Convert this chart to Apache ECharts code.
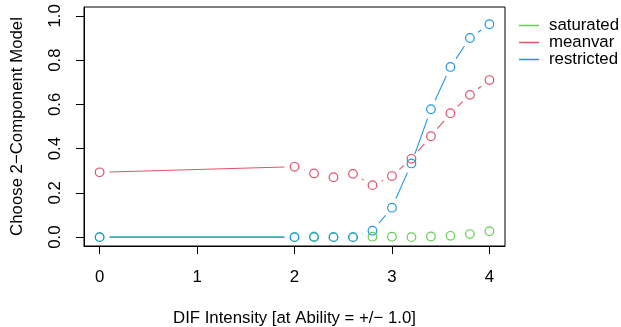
<!DOCTYPE html>
<html>
<head>
<meta charset="utf-8">
<script src="https://cdn.jsdelivr.net/npm/echarts@6/dist/echarts.min.js"></script>
<style>
  html, body { margin: 0; padding: 0; background: #ffffff; }
  #chart { width: 621px; height: 327px; }
</style>
</head>
<body>
<div id="chart"></div>
<script>
// DIF intensity values (x)
const intensity = [0, 2, 2.2, 2.4, 2.6, 2.8, 3, 3.2, 3.4, 3.6, 3.8, 4];

// proportion choosing the 2-component model
const saturated = [0, 0, 0.003, 0, 0, 0.002, 0.002, 0, 0.003, 0.006, 0.014, 0.027];
const meanvar = [0.293, 0.318, 0.288, 0.271, 0.286, 0.235, 0.276, 0.354, 0.456, 0.560, 0.643, 0.710];
const restricted = [0, 0, 0, 0, 0, 0.029, 0.133, 0.333, 0.578, 0.769, 0.900, 0.962];

const xTicks = [0, 1, 2, 3, 4];
const yTicks = [0, 0.2, 0.4, 0.6, 0.8, 1.0];

const models = [
  { name: 'saturated', values: saturated, color: '#61D04F' },
  { name: 'meanvar', values: meanvar, color: '#DF536B' },
  { name: 'restricted', values: restricted, color: '#2297E6' }
];

const FONT = '"Liberation Sans", Arial, Helvetica, sans-serif';
const FS = 16.8;
const GAP = 10; // like R type="b": segments stop short of the points

const chart = echarts.init(document.getElementById('chart'), null, { renderer: 'canvas' });

// points with gapped connecting segments
function makeSeries(m) {
  return {
    name: m.name,
    type: 'custom',
    itemStyle: { color: m.color },
    data: intensity.map((x, i) => [x, m.values[i]]),
    encode: { x: 0, y: 1 },
    renderItem: (params, api) => {
      const i = params.dataIndex;
      const p = api.coord([api.value(0), api.value(1)]);
      const children = [{
        type: 'circle',
        shape: { cx: p[0], cy: p[1], r: 4.3 },
        style: { fill: 'none', stroke: m.color, lineWidth: 1.2 }
      }];
      if (i > 0) {
        const q = api.coord([intensity[i - 1], m.values[i - 1]]);
        const dx = p[0] - q[0];
        const dy = p[1] - q[1];
        const d = Math.sqrt(dx * dx + dy * dy);
        if (d > 2 * GAP) {
          const ux = dx / d, uy = dy / d;
          children.push({
            type: 'line',
            shape: {
              x1: q[0] + ux * GAP, y1: q[1] + uy * GAP,
              x2: p[0] - ux * GAP, y2: p[1] - uy * GAP
            },
            style: { stroke: m.color, lineWidth: 1.1 }
          });
        }
      }
      return { type: 'group', children: children };
    }
  };
}

const option = {
  animation: false,
  backgroundColor: '#ffffff',
  textStyle: { fontFamily: FONT },
  grid: {
    left: 84, top: 7, width: 421, height: 239,
    containLabel: false,
    outerBoundsMode: 'none',
    show: true, borderColor: '#000000', borderWidth: 1, backgroundColor: 'transparent'
  },
  legend: {
    orient: 'vertical',
    left: 519,
    top: 17,
    padding: 0,
    itemWidth: 20,
    itemHeight: 1.5,
    itemGap: 0,
    icon: 'rect',
    textStyle: { fontFamily: FONT, fontSize: FS, color: '#000000', lineHeight: 15.5, padding: [0, 0, 0, 5] },
    data: models.map(m => ({ name: m.name, itemStyle: { color: m.color } }))
  },
  xAxis: {
    type: 'value',
    min: -0.16,
    max: 4.16,
    name: 'DIF Intensity [at Ability = +/\u2212 1.0]',
    nameLocation: 'middle',
    nameGap: 64,
    nameTextStyle: { fontFamily: FONT, fontSize: FS, color: '#000000' },
    axisLine: { show: true, onZero: false, lineStyle: { color: '#000000', width: 1 } },
    splitLine: { show: false },
    axisTick: { show: true, inside: false, length: 8, customValues: xTicks, lineStyle: { color: '#000000' } },
    axisLabel: {
      customValues: xTicks,
      formatter: v => String(v),
      fontFamily: FONT, fontSize: FS, color: '#000000', margin: 23
    }
  },
  yAxis: {
    type: 'value',
    min: -0.04,
    max: 1.04,
    name: 'Choose 2\u2212Component Model',
    nameLocation: 'middle',
    nameGap: 58,
    nameRotate: 90,
    nameTextStyle: { fontFamily: FONT, fontSize: FS, color: '#000000' },
    axisLine: { show: true, onZero: false, lineStyle: { color: '#000000', width: 1 } },
    splitLine: { show: false },
    axisTick: { show: true, inside: false, length: 8, customValues: yTicks, lineStyle: { color: '#000000' } },
    axisLabel: {
      customValues: yTicks,
      rotate: 90,
      formatter: v => v.toFixed(1),
      fontFamily: FONT, fontSize: FS, color: '#000000', margin: 20
    }
  },
  series: models.map(makeSeries)
};

chart.setOption(option);
</script>
</body>
</html>
